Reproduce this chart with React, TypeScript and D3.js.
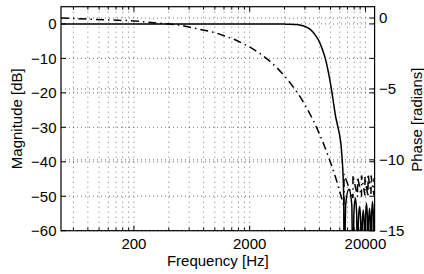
import React from "react";
import * as d3 from "d3";

// ---- data ----
const magFreq = [46.875, 100, 500, 1000, 2000, 3000, 4000, 4500, 5000, 5500, 6000, 6500, 7000, 7500, 8000, 8500, 9000, 9500, 10000, 10500, 11000, 11500, 12000, 12300, 12600, 12850, 13000, 13060,
  13500, 14390, 15250, 15600,
  15900, 16350, 16800, 17100,
  17380, 17800, 18220, 18500,
  18770, 19150, 19530, 19800,
  20050, 20420, 20800, 21050,
  21310, 21700, 22090, 22350,
  22620, 23020, 23430, 23700, 24000];
const magDb = [0, 0, 0, 0, 0, 0, -0.05, -0.1, -0.2, -0.4, -0.75, -1.3, -2.3, -3.6, -5.2, -7.4, -10.0, -13.5, -17.5, -22, -26.5, -29.5, -32.5, -35, -39.5, -45, -52, -80,
  -52.5, -48, -52.5, -80,
  -55, -50.5, -55, -80,
  -57.5, -53, -57.5, -80,
  -58.5, -54, -58.5, -80,
  -56.5, -52, -56.5, -80,
  -58, -53.5, -58, -80,
  -56, -51.5, -56, -80, -57];

const phaseFreq = [46.875, 200, 500, 1000, 1500, 2000, 2500, 3000, 3500, 4000, 4500, 5000, 5500, 6000, 6500, 7000, 7500, 8000, 8500, 9000, 9500, 10000, 10500, 11000, 11500, 12000, 12500, 13060,
  13060, 15600, 15600, 17100, 17100, 18500, 18500, 19800, 19800, 21050, 21050, 22350, 22350, 23700, 23700, 24000];
const phaseRad = [0, -0.2, -0.5, -1.02, -1.53, -2.04, -2.55, -3.06, -3.57, -4.08, -4.6, -5.1, -5.6, -6.12, -6.63, -7.14, -7.65, -8.16, -8.67, -9.18, -9.69, -10.2, -10.7, -11.2, -11.7, -12.25, -12.75, -13.3,
  -11.0, -12.7, -11.1, -12.6, -11.2, -12.6, -11.1, -12.5, -11.2, -12.6, -11.0, -12.4, -11.1, -12.5, -11.3, -11.6];

const xMajorTicks = [200, 2000, 20000];
const xMinorTicks = [60, 80, 100, 120, 140, 160, 180, 400, 600, 800, 1000, 1200, 1400, 1600, 1800, 4000, 6000, 8000, 10000, 12000, 14000, 16000, 18000];
const magTicks = [0, -10, -20, -30, -40, -50, -60];
const phaseTicks = [0, -5, -10, -15];

const xLabel = "Frequency [Hz]";
const yLabelLeft = "Magnitude [dB]";
const yLabelRight = "Phase [radians]";

const W = 424;
const H = 274;
const L = 61;
const R = 374.6;
const T = 6.7;
const B = 230.7;
const FONT = "'Liberation Sans', Arial, Helvetica, sans-serif";

const fmt = (v: number) => (v < 0 ? "\u2212" + Math.abs(v) : String(v));

export default function App() {
  const x = d3.scaleLog().domain([46.875, 24000]).range([L, R]);
  const yMag = d3.scaleLinear().domain([-60, 5]).range([B, T]);
  const yPh = d3.scaleLinear().domain([-15, 0.8]).range([B, T]);

  const magPts: [number, number][] = magFreq.map((f, i) => [f, magDb[i]]);
  const phPts: [number, number][] = phaseFreq.map((f, i) => [f, phaseRad[i]]);

  const magLine = d3
    .line<[number, number]>()
    .x((d) => x(d[0]))
    .y((d) => yMag(d[1]))
    .curve(d3.curveMonotoneX);
  const phLine = d3
    .line<[number, number]>()
    .x((d) => x(d[0]))
    .y((d) => yPh(d[1]));

  const gridStyle = { stroke: "#000", strokeOpacity: 0.55, strokeWidth: 1, strokeDasharray: "1,3" };

  return (
    <svg
      width={W}
      height={H}
      style={{ position: "absolute", left: 0, top: 0, background: "#fff" }}
      fontFamily={FONT}
    >
      <defs>
        <clipPath id="plot">
          <rect x={L} y={T} width={R - L} height={B - T} />
        </clipPath>
      </defs>
      <rect x={0} y={0} width={W} height={H} fill="#fff" />
      {/* grid */}
      <g>
        {[...xMinorTicks, ...xMajorTicks].map((f) => (
          <line key={"vg" + f} x1={x(f)} x2={x(f)} y1={T} y2={B} {...gridStyle} strokeDasharray="1,4" />
        ))}
        {magTicks.map((v) => (
          <line key={"hg" + v} x1={L} x2={R} y1={yMag(v)} y2={yMag(v)} {...gridStyle} />
        ))}
        {phaseTicks.map((v) => (
          <line key={"hp" + v} x1={L} x2={R} y1={yPh(v)} y2={yPh(v)} {...gridStyle} />
        ))}
      </g>
      {/* curves */}
      <g clipPath="url(#plot)">
        <path d={magLine(magPts) || ""} fill="none" stroke="#000" strokeWidth={1.5} />
        <path
          d={phLine(phPts) || ""}
          fill="none"
          stroke="#000"
          strokeWidth={1.5}
          strokeDasharray="8,4,1.5,4"
        />
      </g>
      {/* box */}
      <rect x={L} y={T} width={R - L} height={B - T} fill="none" stroke="#000" strokeWidth={1.2} />
      {/* ticks */}
      <g stroke="#000" strokeWidth={1}>
        {xMajorTicks.map((f) => (
          <g key={"xt" + f}>
            <line x1={x(f)} x2={x(f)} y1={B} y2={B - 5} />
            <line x1={x(f)} x2={x(f)} y1={T} y2={T + 5} />
          </g>
        ))}
        {xMinorTicks.map((f) => (
          <g key={"xm" + f}>
            <line x1={x(f)} x2={x(f)} y1={B} y2={B - 3} />
            <line x1={x(f)} x2={x(f)} y1={T} y2={T + 3} />
          </g>
        ))}
        {magTicks.map((v) => (
          <g key={"yt" + v}>
            <line x1={L} x2={L + 5} y1={yMag(v)} y2={yMag(v)} />
            <line x1={R} x2={R - 5} y1={yMag(v)} y2={yMag(v)} />
          </g>
        ))}
        {phaseTicks.map((v) => (
          <line key={"pt" + v} x1={R} x2={R - 5} y1={yPh(v)} y2={yPh(v)} />
        ))}
      </g>
      {/* tick labels */}
      <g fontSize={15} fill="#000">
        {xMajorTicks.map((f) => (
          <text key={"xl" + f} x={x(f)} y={249} textAnchor="middle">
            {fmt(f)}
          </text>
        ))}
        {magTicks.map((v) => (
          <text key={"yl" + v} x={56.5} y={yMag(v) + 5.3} textAnchor="end">
            {fmt(v)}
          </text>
        ))}
        {phaseTicks.map((v) => (
          <text key={"pl" + v} x={379} y={yPh(v) + 5.3} textAnchor="start">
            {fmt(v)}
          </text>
        ))}
      </g>
      {/* axis labels */}
      <g fontSize={15} fill="#000">
        <text x={(L + R) / 2} y={265.5} textAnchor="middle">
          {xLabel}
        </text>
        <text transform={`translate(21.5, ${(T + B) / 2}) rotate(-90)`} textAnchor="middle">
          {yLabelLeft}
        </text>
        <text transform={`translate(421.5, ${(T + B) / 2 + 1}) rotate(-90)`} textAnchor="middle">
          {yLabelRight}
        </text>
      </g>
    </svg>
  );
}
